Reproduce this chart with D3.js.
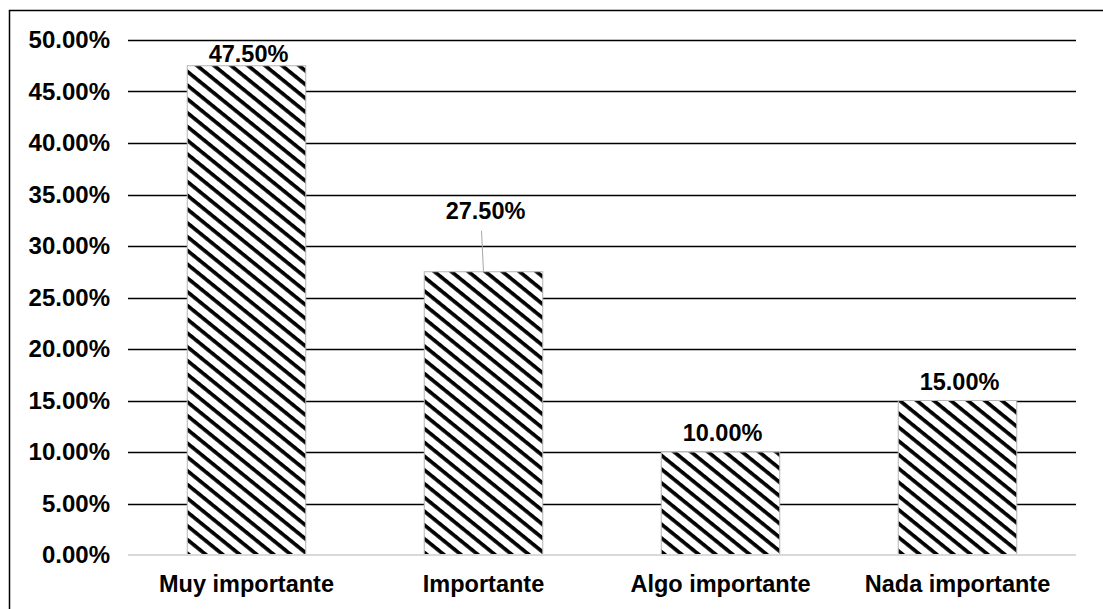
<!DOCTYPE html>
<html><head><meta charset="utf-8">
<script src="https://cdn.jsdelivr.net/npm/d3@7"></script>
<style>
html,body{margin:0;padding:0;background:#fff;}
svg{display:block;font-family:"Liberation Sans",Arial,sans-serif;}
</style></head>
<body>
<svg id="c" width="1103" height="609"></svg>
<script>
const categories = ["Muy importante", "Importante", "Algo importante", "Nada importante"];
const values = [47.5, 27.5, 10.0, 15.0];
const valueLabels = ["47.50%", "27.50%", "10.00%", "15.00%"];
const yTicks = [0, 5, 10, 15, 20, 25, 30, 35, 40, 45, 50];

const svg = d3.select("#c");
const W = 1103, H = 609;
const m = {left: 128, right: 27, top: 40, bottom: 54};
const x = d3.scaleBand().domain(categories).range([m.left, W - m.right]).paddingInner(0.5).paddingOuter(0.25);
const y = d3.scaleLinear().domain([0, 50]).range([H - m.bottom, m.top]);

// pattern
const defs = svg.append("defs");
const pat = defs.append("pattern").attr("id", "hatch").attr("patternUnits", "userSpaceOnUse")
  .attr("width", 10.7).attr("height", 10.7).attr("patternTransform", "rotate(39)");
pat.append("rect").attr("width", 10.7).attr("height", 10.7).attr("fill", "#fff");
pat.append("rect").attr("x", 0).attr("y", 0).attr("width", 10.7).attr("height", 3.7).attr("fill", "#000");

// frame
svg.append("rect").attr("x", 9.5).attr("y", 10.5).attr("width", 1200).attr("height", 700)
  .attr("fill", "none").attr("stroke", "#000").attr("stroke-width", 1.5);

// gridlines
svg.append("g").selectAll("line").data(yTicks.filter(d => d > 0)).join("line")
  .attr("x1", m.left).attr("x2", W - m.right)
  .attr("y1", d => Math.round(y(d)) + 0.5).attr("y2", d => Math.round(y(d)) + 0.5)
  .attr("stroke", "#000").attr("stroke-width", 1.4);

// y axis labels
const yAxis = d3.axisLeft(y).tickValues(yTicks).tickSize(0).tickPadding(18).tickFormat(d => d.toFixed(2) + "%");
const ya = svg.append("g").attr("transform", `translate(${m.left},0)`).call(yAxis);
ya.select(".domain").remove();
ya.selectAll("text").attr("font-size", 24).attr("font-weight", "bold").attr("fill", "#000")
  .attr("font-family", "'Liberation Sans',Arial,sans-serif");

// bars
svg.append("g").selectAll("rect").data(values).join("rect")
  .attr("x", (d, i) => x(categories[i])).attr("width", x.bandwidth())
  .attr("y", d => y(d)).attr("height", d => y(0) - y(d))
  .attr("fill", "url(#hatch)").attr("stroke", "#b5b5b5").attr("stroke-width", 1);

// baseline
svg.append("line").attr("x1", m.left).attr("x2", W - m.right)
  .attr("y1", y(0)).attr("y2", y(0)).attr("stroke", "#d9d9d9").attr("stroke-width", 2);

// x axis labels
const xAxis = d3.axisBottom(x).tickSize(0).tickPadding(20);
const xa = svg.append("g").attr("transform", `translate(0,${y(0)})`).call(xAxis);
xa.select(".domain").remove();
xa.selectAll("text").attr("font-size", 23.5).attr("font-weight", "bold").attr("fill", "#000")
  .attr("font-family", "'Liberation Sans',Arial,sans-serif");

// data labels
const lift = [0, 42, 0, 0];
const lbl = svg.append("g");
values.forEach((v, i) => {
  const cx = x(categories[i]) + x.bandwidth() / 2;
  let by = Math.max(y(v) - 11 - lift[i], 62);
  if (lift[i] > 0) {
    lbl.append("line").attr("x1", cx - 2).attr("y1", by + 12).attr("x2", cx).attr("y2", y(v))
      .attr("stroke", "#a6a6a6").attr("stroke-width", 1);
  }
  lbl.append("text").attr("x", cx + 2).attr("y", by).attr("text-anchor", "middle")
    .attr("font-size", 23.5).attr("font-weight", "bold").attr("fill", "#000").text(valueLabels[i]);
});
</script>
</body></html>
